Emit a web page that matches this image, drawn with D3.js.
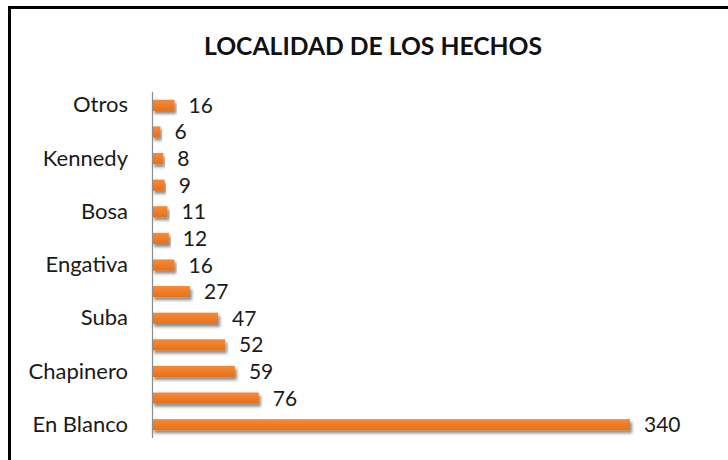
<!DOCTYPE html>
<html>
<head>
<meta charset="utf-8">
<script src="https://cdn.jsdelivr.net/npm/d3@7"></script>
<style>
  body { margin: 0; background: #fff; }
  svg { display: block; }
</style>
</head>
<body>
<div id="container"></div>
<script>
/* DATA (bottom to top, as in the chart) */
const categories = ["En Blanco", "", "Chapinero", "", "Suba", "", "Engativa", "", "Bosa", "", "Kennedy", "", "Otros"];
const values = [340, 76, 59, 52, 47, 27, 16, 12, 11, 9, 8, 6, 16];
const titleText = "LOCALIDAD DE LOS HECHOS";

/* CONSTANTS */
const width = 728, height = 460;
const plot = { left: 152, top: 92, bottom: 438 };
const barColor = "#f07d26";
const font = "Lato, 'Open Sans', sans-serif";

const svg = d3.select("#container").append("svg")
  .attr("width", width)
  .attr("height", height);

const defs = svg.append("defs");
const shadow = defs.append("filter").attr("id", "shadow")
  .attr("x", "-5%").attr("y", "-50%").attr("width", "115%").attr("height", "250%");
shadow.append("feDropShadow")
  .attr("dx", 2).attr("dy", 3).attr("stdDeviation", 1.6)
  .attr("flood-color", "#000").attr("flood-opacity", 0.45);

const grad = defs.append("linearGradient").attr("id", "barGrad")
  .attr("x1", 0).attr("y1", 0).attr("x2", 0).attr("y2", 1);
grad.append("stop").attr("offset", "0%").attr("stop-color", "#f58a3c");
grad.append("stop").attr("offset", "50%").attr("stop-color", barColor);
grad.append("stop").attr("offset", "100%").attr("stop-color", "#e4701c");

/* FRAME (top and left only) */
svg.append("line").attr("x1", 8).attr("x2", width).attr("y1", 7.5).attr("y2", 7.5)
  .attr("stroke", "#000").attr("stroke-width", 3);
svg.append("line").attr("x1", 9.5).attr("x2", 9.5).attr("y1", 6).attr("y2", height)
  .attr("stroke", "#000").attr("stroke-width", 3);

/* SCALES */
const idx = d3.range(categories.length);
const y = d3.scaleBand()
  .domain(idx)
  .range([plot.bottom, plot.top])
  .paddingInner(0.58)
  .paddingOuter(0.29);

const x = d3.scaleLinear()
  .domain([0, 340])
  .range([plot.left, 630]);

/* TITLE */
svg.append("text")
  .attr("x", 373)
  .attr("y", 55)
  .attr("text-anchor", "middle")
  .attr("font-family", font)
  .attr("font-weight", "bold")
  .attr("font-size", 24)
  .attr("fill", "#111")
  .attr("textLength", 338)
  .attr("lengthAdjust", "spacingAndGlyphs")
  .text(titleText);

/* BARS */
svg.append("g").selectAll("rect")
  .data(values)
  .join("rect")
    .attr("x", x(0))
    .attr("y", (d, i) => y(i))
    .attr("width", d => x(d) - x(0))
    .attr("height", y.bandwidth())
    .attr("fill", "url(#barGrad)")
    .attr("filter", "url(#shadow)");

/* AXIS */
const yAxis = d3.axisLeft(y)
  .tickSize(0)
  .tickPadding(24)
  .tickFormat(i => categories[i]);
const gy = svg.append("g")
  .attr("transform", `translate(${plot.left},0)`)
  .call(yAxis);
gy.select(".domain").attr("stroke", "#8c8c8c").attr("stroke-width", 1.2)
  .attr("d", `M0.5,${plot.top}V${plot.bottom}`);
gy.selectAll("text")
  .attr("font-family", font)
  .attr("font-size", 22)
  .attr("fill", "#1a1a1a");

/* VALUE LABELS */
svg.append("g").selectAll("text")
  .data(values)
  .join("text")
    .attr("x", d => x(d) + 14)
    .attr("y", (d, i) => y(i) + y.bandwidth() / 2)
    .attr("dy", "0.36em")
    .attr("font-family", font)
    .attr("font-size", 21)
    .attr("fill", "#1a1a1a")
    .text(d => d);
</script>
</body>
</html>
